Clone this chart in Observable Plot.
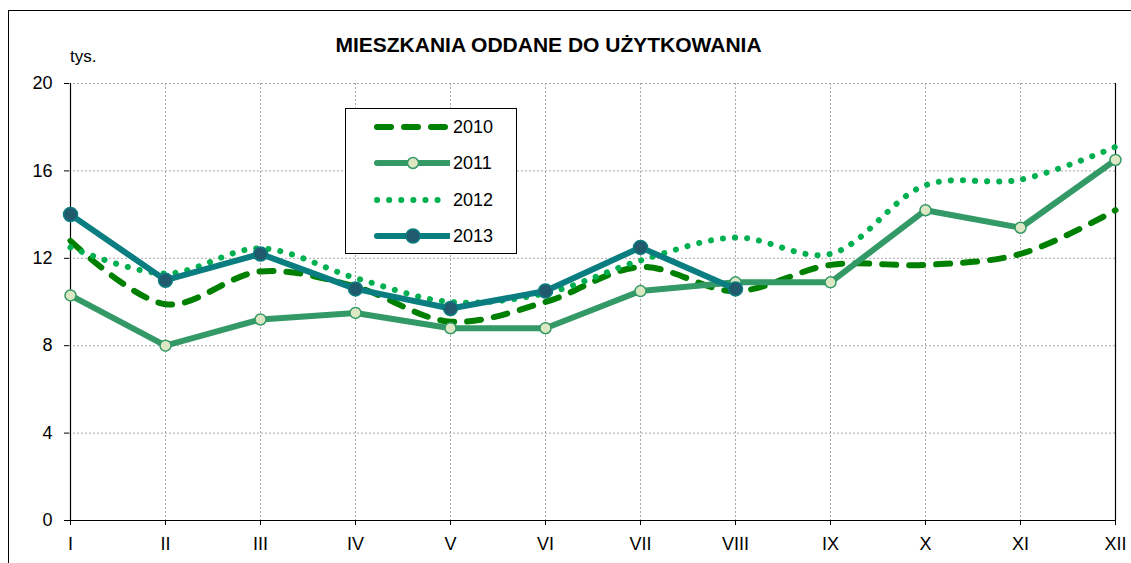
<!DOCTYPE html>
<html>
<head>
<meta charset="utf-8">
<script src="https://cdn.jsdelivr.net/npm/d3@7"></script>
<script src="https://cdn.jsdelivr.net/npm/@observablehq/plot@0.6"></script>
<style>
  html, body { margin: 0; padding: 0; background: #fff; }
  body { width: 1131px; height: 563px; overflow: hidden; position: relative; font-family: "Liberation Sans", Arial, sans-serif; }
  #frame { position: absolute; left: 8px; top: 10px; width: 1140px; height: 570px; border-left: 1px solid #000; border-top: 1px solid #000; box-sizing: border-box; }
  #chart { position: absolute; left: 0; top: 0; }
  #title { position: absolute; left: 0; width: 1097px; top: 33px; text-align: center; font-weight: bold; font-size: 21px; color: #000; }
  #unit { position: absolute; left: 70px; top: 47px; font-size: 17px; color: #000; }
  #legend { position: absolute; left: 345px; top: 108px; width: 172px; height: 146px; border: 1px solid #000; box-sizing: border-box; background: #fff; }
  .lrow { position: absolute; left: 0; height: 20px; }
  .lrow svg { position: absolute; left: 28px; top: 0; }
  .lrow span { position: absolute; left: 107px; top: 0; font-size: 18px; line-height: 20px; color: #000; }
</style>
</head>
<body>
<div id="frame"></div>
<div id="chart"></div>
<div id="title">MIESZKANIA ODDANE DO UŻYTKOWANIA</div>
<div id="unit">tys.</div>
<div id="legend"></div>
<script>
const months = ["I","II","III","IV","V","VI","VII","VIII","IX","X","XI","XII"];
const yTicks = [0, 4, 8, 12, 16, 20];
const v2010 = [12.8, 9.9, 11.4, 10.7, 9.1, 10.0, 11.6, 10.5, 11.7, 11.7, 12.2, 14.2];
const v2011 = [10.3, 8.0, 9.2, 9.5, 8.8, 8.8, 10.5, 10.9, 10.9, 14.2, 13.4, 16.5];
const v2012 = [12.5, 11.3, 12.45, 11.1, 10.0, 10.4, 11.9, 12.95, 12.2, 15.35, 15.6, 17.1];
const v2013 = [14.0, 11.0, 12.2, 10.6, 9.7, 10.5, 12.5, 10.6];

const series = [
  {name: "2010", values: v2010, color: "#008000", dash: "14,13", curve: "catmull-rom", marker: null},
  {name: "2011", values: v2011, color: "#339966", dash: null, curve: "linear", marker: {fill: "#dce8c4", r: 5.5}},
  {name: "2012", values: v2012, color: "#00b050", dash: "0.1,12", curve: "catmull-rom", marker: null},
  {name: "2013", values: v2013, color: "#0a7d80", dash: null, curve: "linear", marker: {fill: "#215a6c", r: 7}}
];

const toData = s => s.values.map((v, i) => ({m: months[i], v}));

const marks = [
  Plot.gridY([4, 8, 12, 16, 20], {stroke: "#a8a8a8", strokeOpacity: 1, strokeDasharray: "2,2"}),
  Plot.gridX(months.slice(1, 11), {stroke: "#a8a8a8", strokeOpacity: 1, strokeDasharray: "2,2"}),
  Plot.ruleX(["XII"], {stroke: "#000", strokeWidth: 1.2}),
  Plot.ruleX(["I"], {stroke: "#000", strokeWidth: 1.2}),
  Plot.ruleY([0], {stroke: "#000", strokeWidth: 1.2}),
  Plot.axisY({ticks: yTicks, tickSize: 5, tickPadding: 12, fontSize: 18, label: null, stroke: "#000"}),
  Plot.axisX({tickSize: 5, tickPadding: 12, fontSize: 18, label: null})
];
for (const s of series) {
  const d = toData(s);
  marks.push(Plot.line(d, {x: "m", y: "v", stroke: s.color, strokeWidth: 6, strokeLinecap: "round", strokeLinejoin: "round", strokeDasharray: s.dash || undefined, curve: s.curve}));
  if (s.marker) marks.push(Plot.dot(d, {x: "m", y: "v", r: s.marker.r, fill: s.marker.fill, stroke: s.color, strokeWidth: 1.5}));
}

const chart = Plot.plot({
  width: 1131, height: 563,
  marginLeft: 69, marginRight: 15, marginTop: 83, marginBottom: 43,
  style: {fontFamily: "'Liberation Sans', Arial, sans-serif", fontSize: "18px", color: "#000", background: "transparent"},
  x: {type: "point", domain: months, padding: 0, label: null},
  y: {domain: [0, 20], label: null},
  marks
});
document.getElementById("chart").appendChild(chart);

// Legend
const legend = document.getElementById("legend");
const rowTops = [8, 44, 81, 117];
series.forEach((s, i) => {
  const row = document.createElement("div");
  row.className = "lrow";
  row.style.top = rowTops[i] + "px";
  const svg = d3.create("svg").attr("width", 76).attr("height", 20);
  svg.append("line").attr("x1", 3).attr("x2", 75).attr("y1", 10).attr("y2", 10)
    .attr("stroke", s.color).attr("stroke-width", 6).attr("stroke-linecap", "round")
    .attr("stroke-dasharray", s.dash || null);
  if (s.marker) svg.append("circle").attr("cx", 39).attr("cy", 10).attr("r", s.marker.r)
    .attr("fill", s.marker.fill).attr("stroke", s.color).attr("stroke-width", 1.5);
  row.appendChild(svg.node());
  const t = document.createElement("span");
  t.textContent = s.name;
  row.appendChild(t);
  legend.appendChild(row);
});
</script>
</body>
</html>
